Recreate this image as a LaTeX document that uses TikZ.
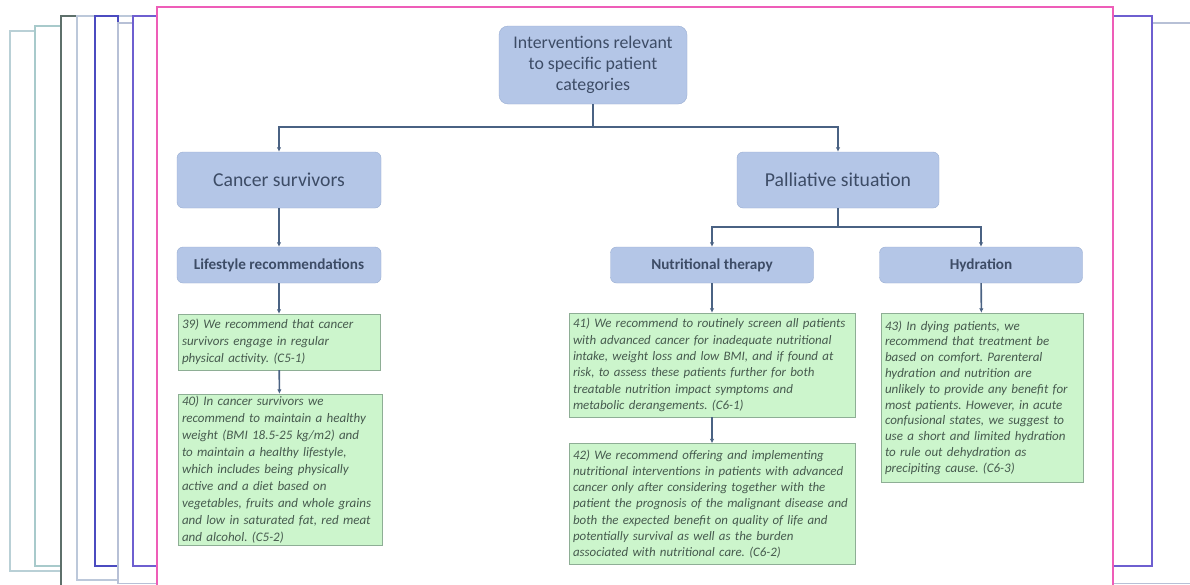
\documentclass[tikz,border=0pt]{standalone}
\usepackage{fontspec}
\setmainfont{Carlito}
\usepackage{xcolor}
\usetikzlibrary{arrows.meta}
\frenchspacing

\definecolor{catfill}{HTML}{B4C6E7}
\definecolor{catline}{HTML}{9AAED2}
\definecolor{cattext}{HTML}{3D4C66}
\definecolor{recfill}{HTML}{CCF5CC}
\definecolor{recline}{HTML}{8EAE95}
\definecolor{rectext}{HTML}{465A4E}
\definecolor{linkcol}{HTML}{4A6283}
\definecolor{slidepink}{HTML}{EE5DB8}
\definecolor{slidea}{HTML}{B9D0D6}
\definecolor{slideb}{HTML}{A8CACB}
\definecolor{slidec}{HTML}{5E706B}
\definecolor{slided}{HTML}{BCC8DA}
\definecolor{slidee}{HTML}{4B4BC0}
\definecolor{slidef}{HTML}{B7C0D6}
\definecolor{slideg}{HTML}{6E5FD0}

\tikzset{
  catbox/.style={draw=catline, fill=catfill, rounded corners=6pt, text=cattext,
    align=center, inner sep=0pt},
  recbox/.style={draw=recline, fill=recfill, text=rectext, align=left,
    inner xsep=5pt, inner ysep=0pt},
  link/.style={draw=linkcol, line width=1.6pt, -{Latex[length=4.5pt,width=4.5pt]}},
  slide/.style={fill=white, line width=1.2pt}
}

\begin{document}
\begin{tikzpicture}[x=1pt,y=-1pt]
\useasboundingbox (0,0) rectangle (1190,584);
\clip (0,0) rectangle (1190,584);
\fill[white] (0,0) rectangle (1190,584);

% stacked slides behind the chart
\draw[slide, draw=slidea] (10,31) rectangle (1100,571);
\draw[slide, draw=slideb] (35,26) rectangle (1100,566);
\draw[slide, draw=slidec] (61,16) rectangle (1100,600);
\draw[slide, draw=slided] (77,16) rectangle (1100,580);
\draw[slide, draw=slidee] (95,16) rectangle (118,566);
\draw[slide, draw=slidef] (118,23) rectangle (1200,583.5);
\draw[slide, draw=slideg] (133,16) rectangle (1152,566);
\draw[slide, draw=slidepink, line width=1.5pt] (157,7) rectangle (1113,600);

% categories
\node (cat) at (593,65) [catbox, rounded corners=9pt, minimum width=188pt, minimum height=78pt,
  font=\fontsize{17.8}{21}\selectfont] {Interventions relevant\\to specific patient\\categories};
\node (surv) at (279,180) [catbox, minimum width=204pt, minimum height=56pt,
  font=\fontsize{19.7}{22}\selectfont] {Cancer survivors};
\node (pall) at (838,180) [catbox, minimum width=202pt, minimum height=56pt,
  font=\fontsize{19.7}{22}\selectfont] {Palliative situation};
\node (life) at (279,265) [catbox, minimum width=204pt, minimum height=36pt,
  font=\fontsize{15.2}{17}\selectfont\bfseries] {Lifestyle recommendations};
\node (nutr) at (712,265) [catbox, minimum width=203pt, minimum height=36pt,
  font=\fontsize{15.2}{17}\selectfont\bfseries] {Nutritional therapy};
\node (hydr) at (981,265) [catbox, minimum width=203pt, minimum height=36pt,
  font=\fontsize{15.2}{17}\selectfont\bfseries] {Hydration};

% recommendations
\node (r39) at (279,342) [recbox, inner xsep=4pt, text width=194pt, minimum height=56pt,
  font=\fontsize{13}{17}\selectfont\itshape]
  {39) We recommend that cancer\\survivors engage in regular\\physical activity. (C5-1)};
\node (r40) at (280,469.5) [recbox, inner xsep=4pt, text width=196pt, minimum height=151pt,
  font=\fontsize{13}{17}\selectfont\itshape]
  {40) In cancer survivors we\\recommend to maintain a healthy\\weight (BMI 18.5-25 kg/m2) and\\to maintain a healthy lifestyle,\\which includes being physically\\active and a diet based on\\vegetables, fruits and whole grains\\and low in saturated fat, red meat\\and alcohol. (C5-2)};
\node (r41) at (712,365) [recbox, inner xsep=4pt, text width=278pt, minimum height=104pt,
  font=\fontsize{12.9}{16.4}\selectfont\itshape]
  {41) We recommend to routinely screen all patients\\with advanced cancer for inadequate nutritional\\intake, weight loss and low BMI, and if found at\\risk, to assess these patients further for both\\treatable nutrition impact symptoms and\\metabolic derangements. (C6-1)};
\node (r42) at (712,504) [recbox, inner xsep=4pt, text width=278pt, minimum height=121pt,
  font=\fontsize{12.9}{16.2}\selectfont\itshape]
  {42) We recommend offering and implementing\\nutritional interventions in patients with advanced\\cancer only after considering together with the\\patient the prognosis of the malignant disease and\\both the expected benefit on quality of life and\\potentially survival as well as the burden\\associated with nutritional care. (C6-2)};
\node (r43) at (982,397.5) [recbox, inner xsep=4pt, text width=194pt, minimum height=169pt,
  font=\fontsize{13}{15.8}\selectfont\itshape]
  {43) In dying patients, we\\recommend that treatment be\\based on comfort. Parenteral\\hydration and nutrition are\\unlikely to provide any benefit for\\most patients. However, in acute\\confusional states, we suggest to\\use a short and limited hydration\\to rule out dehydration as\\precipiting cause. (C6-3)};

% connectors
\draw[link] (cat.south) -- ++(0,23) -| (surv.north);
\draw[link] (cat.south) -- ++(0,23) -| (pall.north);
\draw[link] (surv) -- (life);
\draw[link] (life) -- (r39);
\draw[link] (r39) -- (r40);
\draw[link] (pall.south) -- ++(0,19) -| (nutr.north);
\draw[link] (pall.south) -- ++(0,19) -| (hydr.north);
\draw[link] (nutr) -- (r41);
\draw[link] (r41) -- (r42);
\draw[link] (hydr) -- (r43);
\end{tikzpicture}
\end{document}
